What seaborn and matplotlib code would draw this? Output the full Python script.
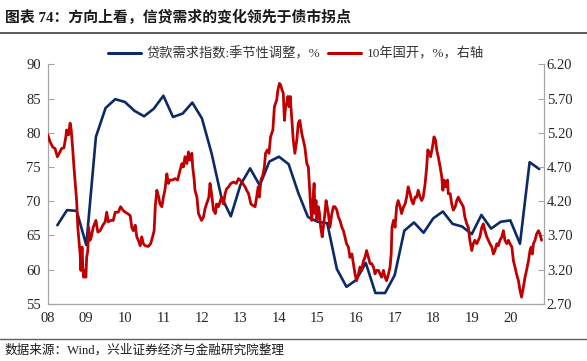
import numpy as np
import pandas as pd
import matplotlib
matplotlib.use('Agg')
import matplotlib.pyplot as plt
import seaborn as sns
from matplotlib.lines import Line2D

# 贷款需求指数:季节性调整 (quarterly, left axis)
loan_quarters = pd.period_range('2008Q1', '2020Q3', freq='Q')
loan_index = [66.5, 68.7, 68.6, 63.6,
              79.4, 83.6, 84.9, 84.5,
              83.2, 82.4, 83.5, 85.4,
              82.3, 82.8, 84.4, 82.1,
              77.0, 70.7, 67.8, 72.4,
              74.8, 72.3, 75.8, 76.5,
              75.4, 71.2, 67.7, 67.0,
              66.8, 60.1, 57.5, 58.5,
              61.0, 56.6, 56.6, 59.2,
              65.7, 66.9, 65.4, 67.5,
              68.5, 66.7, 66.3, 65.2,
              68.0, 66.0, 67.0, 67.2,
              63.8, 75.7, 74.7]

# 10年国开 yield (%, right axis), decimal year
bond_t = [2008.00, 2008.06, 2008.13, 2008.19, 2008.25, 2008.30, 2008.36, 2008.42, 2008.47, 2008.49,
          2008.54, 2008.58, 2008.61, 2008.65, 2008.68, 2008.72, 2008.75, 2008.78, 2008.81, 2008.84,
          2008.86, 2008.89, 2008.91, 2008.93, 2008.96, 2008.99, 2009.01, 2009.04, 2009.06, 2009.10,
          2009.13, 2009.18, 2009.25, 2009.30, 2009.36, 2009.43, 2009.49, 2009.53, 2009.57, 2009.64,
          2009.70, 2009.75, 2009.83, 2009.89, 2009.95, 2010.01, 2010.07, 2010.14, 2010.18, 2010.22,
          2010.27, 2010.31, 2010.35, 2010.40, 2010.44, 2010.48, 2010.53, 2010.61, 2010.67, 2010.72,
          2010.76, 2010.79, 2010.83, 2010.88, 2010.91, 2010.96, 2011.00, 2011.04, 2011.09, 2011.13,
          2011.17, 2011.24, 2011.30, 2011.37, 2011.43, 2011.48, 2011.52, 2011.56, 2011.61, 2011.65,
          2011.69, 2011.74, 2011.76, 2011.80, 2011.82, 2011.87, 2011.91, 2011.95, 2011.99, 2012.04,
          2012.08, 2012.12, 2012.18, 2012.21, 2012.25, 2012.30, 2012.35, 2012.38, 2012.43, 2012.47,
          2012.51, 2012.56, 2012.60, 2012.64, 2012.69, 2012.75, 2012.82, 2012.89, 2012.95, 2012.99,
          2013.06, 2013.12, 2013.16, 2013.21, 2013.27, 2013.32, 2013.38, 2013.42, 2013.46, 2013.49,
          2013.53, 2013.58, 2013.62, 2013.65, 2013.70, 2013.74, 2013.78, 2013.84, 2013.88, 2013.91,
          2013.94, 2013.97, 2014.01, 2014.04, 2014.08, 2014.11, 2014.14, 2014.17, 2014.20, 2014.23,
          2014.26, 2014.29, 2014.37, 2014.41, 2014.46, 2014.50, 2014.54, 2014.59, 2014.63, 2014.67,
          2014.72, 2014.76, 2014.79, 2014.82, 2014.85, 2014.87, 2014.91, 2014.93, 2014.96, 2014.98,
          2015.02, 2015.05, 2015.08, 2015.12, 2015.15, 2015.19, 2015.22, 2015.25, 2015.28, 2015.32,
          2015.37, 2015.41, 2015.45, 2015.50, 2015.54, 2015.58, 2015.63, 2015.67, 2015.71, 2015.75,
          2015.80, 2015.84, 2015.89, 2015.93, 2015.97, 2016.01, 2016.06, 2016.10, 2016.14, 2016.19,
          2016.23, 2016.27, 2016.32, 2016.36, 2016.40, 2016.45, 2016.49, 2016.53, 2016.58, 2016.62,
          2016.66, 2016.71, 2016.75, 2016.79, 2016.84, 2016.88, 2016.91, 2016.93, 2016.97, 2017.01,
          2017.05, 2017.09, 2017.14, 2017.18, 2017.23, 2017.27, 2017.31, 2017.35, 2017.40, 2017.44,
          2017.48, 2017.53, 2017.57, 2017.61, 2017.66, 2017.70, 2017.74, 2017.79, 2017.83, 2017.86,
          2017.90, 2017.93, 2017.98, 2018.02, 2018.06, 2018.09, 2018.13, 2018.18, 2018.22, 2018.25,
          2018.28, 2018.32, 2018.37, 2018.39, 2018.44, 2018.48, 2018.52, 2018.57, 2018.61, 2018.65,
          2018.69, 2018.74, 2018.78, 2018.82, 2018.87, 2018.91, 2018.95, 2019.00, 2019.04, 2019.08,
          2019.13, 2019.17, 2019.21, 2019.26, 2019.30, 2019.34, 2019.39, 2019.43, 2019.47, 2019.52,
          2019.56, 2019.60, 2019.65, 2019.69, 2019.73, 2019.78, 2019.82, 2019.86, 2019.91, 2019.95,
          2019.99, 2020.04, 2020.08, 2020.12, 2020.16, 2020.21, 2020.25, 2020.29, 2020.34, 2020.38,
          2020.42, 2020.47, 2020.51, 2020.54, 2020.57, 2020.60, 2020.64, 2020.68, 2020.73, 2020.77,
          2020.81]
bond_yield = [5.17, 5.07, 4.99, 4.97, 4.85, 4.90, 4.97, 4.98, 5.14, 5.24,
              5.17, 5.34, 5.24, 4.95, 4.70, 4.41, 4.21, 3.82, 3.63, 3.43,
              3.19, 3.53, 3.24, 3.09, 3.19, 3.09, 3.38, 3.48, 3.82, 3.63,
              3.68, 3.82, 3.92, 3.75, 3.77, 3.85, 3.90, 4.04, 3.90, 3.92,
              3.92, 4.04, 4.04, 4.12, 4.07, 4.04, 4.02, 3.99, 3.82, 3.77,
              3.85, 3.68, 3.63, 3.55, 3.68, 3.58, 3.55, 3.54, 3.58, 3.68,
              3.77, 4.12, 4.36, 4.26, 4.16, 4.12, 4.26, 4.36, 4.60, 4.46,
              4.51, 4.51, 4.53, 4.51, 4.65, 4.75, 4.70, 4.85, 4.75, 4.92,
              4.80, 4.90, 4.70, 4.51, 4.36, 4.26, 4.02, 3.97, 3.92, 3.97,
              4.09, 4.16, 4.26, 4.46, 4.31, 4.07, 4.02, 4.16, 4.12, 4.19,
              4.26, 4.16, 4.31, 4.38, 4.41, 4.46, 4.48, 4.46, 4.53, 4.51,
              4.46, 4.41, 4.36, 4.31, 4.16, 4.14, 4.12, 4.26, 4.41, 4.26,
              4.51, 4.58, 4.70, 4.90, 4.95, 4.90, 5.14, 5.24, 5.58, 5.63,
              5.68, 5.82, 5.92, 5.90, 5.82, 5.78, 5.38, 5.58, 5.63, 5.73,
              5.58, 5.73, 5.09, 4.90, 5.09, 5.34, 5.38, 5.19, 5.09, 4.99,
              4.75, 4.70, 4.41, 4.12, 3.92, 4.12, 4.46, 4.02, 4.21, 3.92,
              4.12, 4.02, 3.82, 3.68, 3.82, 4.02, 4.21, 4.12, 4.02, 3.82,
              4.02, 4.12, 4.12, 4.07, 3.97, 3.92, 3.82, 3.77, 3.68, 3.58,
              3.53, 3.38, 3.43, 3.29, 3.14, 3.04, 3.14, 3.24, 3.19, 3.33,
              3.38, 3.48, 3.38, 3.29, 3.29, 3.24, 3.14, 3.19, 3.19, 3.14,
              3.09, 3.19, 3.09, 3.04, 3.14, 3.24, 3.43, 3.82, 3.92, 3.82,
              4.12, 4.21, 4.12, 4.02, 4.12, 4.16, 4.26, 4.41, 4.31, 4.21,
              4.16, 4.26, 4.26, 4.36, 4.26, 4.21, 4.26, 4.46, 4.70, 4.95,
              4.90, 4.85, 4.99, 5.14, 5.09, 4.95, 4.85, 4.70, 4.56, 4.36,
              4.51, 4.41, 4.51, 4.31, 4.31, 4.16, 4.07, 4.12, 4.21, 4.26,
              4.21, 4.16, 4.12, 3.97, 3.87, 3.82, 3.63, 3.48, 3.58, 3.63,
              3.58, 3.63, 3.68, 3.82, 3.87, 3.77, 3.68, 3.63, 3.58, 3.53,
              3.43, 3.48, 3.58, 3.55, 3.63, 3.68, 3.77, 3.63, 3.58, 3.63,
              3.58, 3.53, 3.33, 3.24, 3.14, 3.04, 2.90, 2.80, 2.95, 3.09,
              3.19, 3.33, 3.48, 3.53, 3.43, 3.58, 3.63, 3.72, 3.77, 3.72,
              3.63]

year_ticks = list(range(2008, 2021))
year_labels = ['08', '09', '10', '11', '12', '13', '14', '15', '16', '17', '18', '19', '20']
left_ticks = [55, 60, 65, 70, 75, 80, 85, 90]
right_ticks = [2.70, 3.20, 3.70, 4.20, 4.70, 5.20, 5.70, 6.20]

loan_df = pd.DataFrame({'t': [p.year + p.quarter * 0.25 for p in loan_quarters],
                        'v': loan_index})
bond_df = pd.DataFrame({'t': bond_t, 'v': bond_yield})

sns.set_theme(style='white')
plt.rcParams['font.family'] = ['Liberation Serif', 'Noto Sans CJK SC']

blue = '#0B2A66'
red = '#C00000'
grey = '#A6A6A6'
txt = '#262626'

fig = plt.figure(figsize=(5.87, 3.61), dpi=100)
ax = fig.add_axes([0.0813, 0.158, 0.8455, 0.664])
ax2 = ax.twinx()

sns.lineplot(data=loan_df, x='t', y='v', ax=ax, color=blue, linewidth=1.9)
sns.lineplot(data=bond_df, x='t', y='v', ax=ax2, color=red, linewidth=2.0)

ax.set_xlim(2008, 2020.874)
ax.set_ylim(55, 90)
ax2.set_ylim(2.70, 6.20)
ax.set_xticks(year_ticks)
ax.set_xticklabels(year_labels)
ax.set_yticks(left_ticks)
ax2.set_yticks(right_ticks)
ax2.set_yticklabels([f'{v:.2f}' for v in right_ticks])
for a in (ax, ax2):
    a.set_xlabel('')
    a.set_ylabel('')
    a.spines['top'].set_visible(False)
    for s in ('left', 'right', 'bottom'):
        a.spines[s].set_color(grey)
        a.spines[s].set_linewidth(0.9)
    a.tick_params(direction='in', length=4, width=0.8, color=grey,
                  labelsize=10.5, labelcolor=txt)
ax.spines['right'].set_visible(False)
ax2.spines['left'].set_visible(False)
ax2.spines['bottom'].set_visible(False)
ax.tick_params(axis='x', pad=6)
ax.tick_params(axis='y', pad=5)
ax2.tick_params(axis='y', pad=2)

handles = [Line2D([], [], color=blue, linewidth=2.2), Line2D([], [], color=red, linewidth=2.2)]
fig.legend(handles, ['贷款需求指数:季节性调整，%', '10年国开，%，右轴'],
           loc='center', bbox_to_anchor=(0.504, 0.850), ncol=2, frameon=False,
           fontsize=9.5, handlelength=2.5, handletextpad=0.4, columnspacing=0.6,
           labelcolor='#333333')

fig.text(0.008, 0.953, '图表 74：方向上看，信贷需求的变化领先于债市拐点',
         fontsize=10.7, fontweight='bold', va='center', color='#1a1a1a')
fig.text(0.007, 0.030, '数据来源：Wind，兴业证券经济与金融研究院整理',
         fontsize=9.1, va='center', color='#1a1a1a')
fig.add_artist(Line2D([0, 1], [0.9086, 0.9086], transform=fig.transFigure,
                      color='#404040', linewidth=1.2))
fig.add_artist(Line2D([0, 1], [0.0609, 0.0609], transform=fig.transFigure,
                      color='#606060', linewidth=1.0))

fig.savefig('out.png', dpi=100)
